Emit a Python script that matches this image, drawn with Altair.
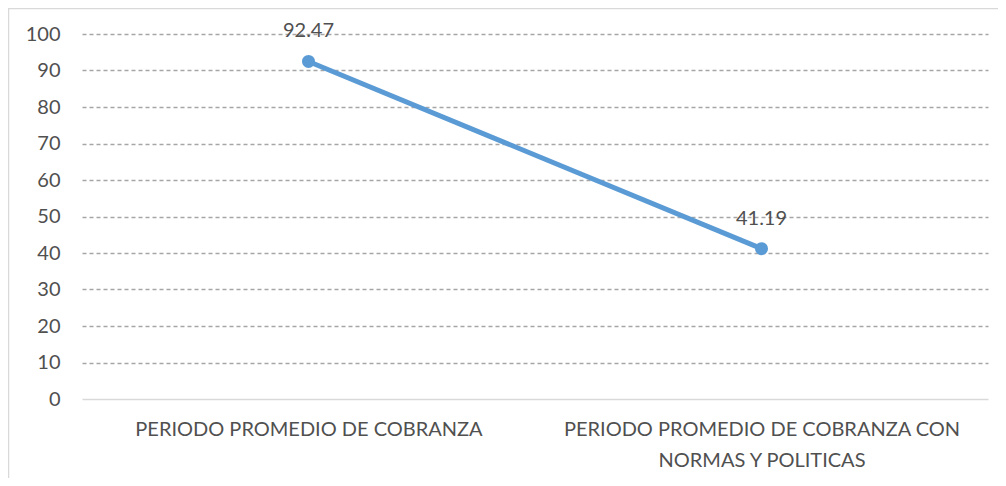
import altair as alt
import pandas as pd

categories = ["PERIODO PROMEDIO DE COBRANZA",
              "PERIODO PROMEDIO DE COBRANZA CON NORMAS Y POLITICAS"]
values = [92.47, 41.19]
y_ticks = [0, 10, 20, 30, 40, 50, 60, 70, 80, 90, 100]
label_lines = {
    "PERIODO PROMEDIO DE COBRANZA": ["PERIODO PROMEDIO DE COBRANZA"],
    "PERIODO PROMEDIO DE COBRANZA CON NORMAS Y POLITICAS": ["PERIODO PROMEDIO DE COBRANZA CON", "NORMAS Y POLITICAS"],
}

df = pd.DataFrame({"cat": categories, "val": values, "lbl": [f"{v:.2f}" for v in values]})

FONT = "Lato"
TXT = "#505050"

label_expr = " : ".join(
    [f"datum.label == '{k}' ? {v!r}" for k, v in label_lines.items()]
) + " : datum.label"

x = alt.X("cat:N", sort=categories, title=None,
          scale=alt.Scale(type="point", padding=0.5),
          axis=alt.Axis(labelAngle=0, ticks=False, grid=False, domainColor="#d9d9d9", domainWidth=1.3,
                        labelFontSize=20, labelFont=FONT, labelColor=TXT,
                        labelPadding=20, labelLineHeight=31, labelExpr=label_expr,
                        labelLimit=0))
y = alt.Y("val:Q", title=None,
          scale=alt.Scale(domain=[0, 100], nice=False),
          axis=alt.Axis(values=y_ticks, domain=False, ticks=False,
                        labelFontSize=20, labelFont=FONT, labelColor=TXT, labelPadding=22,
                        gridColor={"condition": {"test": "datum.value === 0", "value": "transparent"}, "value": "#a6a6a6"},
                        gridDash=[4, 3], gridWidth=1.3))

base = alt.Chart(df)
line = base.mark_line(color="#5b9bd5", strokeWidth=5).encode(x=x, y=y)
pts = base.mark_point(filled=True, color="#5b9bd5", size=170, opacity=1).encode(x=x, y=y)
txt = base.mark_text(font=FONT, fontSize=20, color=TXT, dy=-30, baseline="middle").encode(
    x=x, y=y, text="lbl:N")

border = alt.Chart(pd.DataFrame({"b": [0]})).mark_rect(
    fill="transparent", stroke="#d9d9d9", strokeWidth=1.5, clip=False
).encode(x=alt.value(-73.5), x2=alt.value(1200), y=alt.value(-25.5), y2=alt.value(1200))

chart = alt.layer(border, line, pts, txt).properties(
    width=906, height=365,
    background="white",
    padding={"left": 74, "top": 26, "right": 10, "bottom": 79},
    autosize=alt.AutoSizeParams(type="none"),
).configure_view(stroke=None)

chart.save("out.html", embed_options={"renderer": "svg", "actions": False})
